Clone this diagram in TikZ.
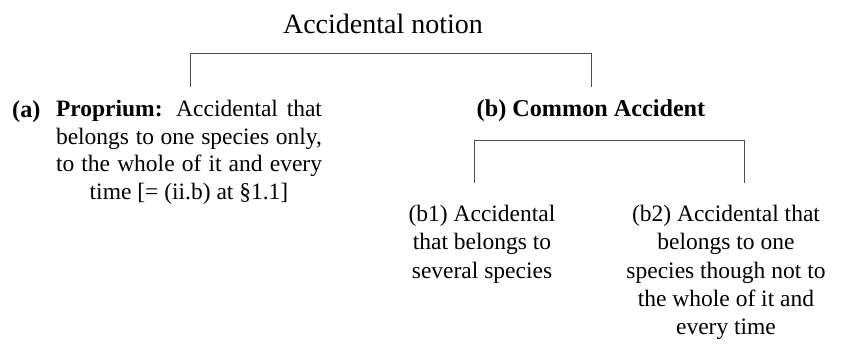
\documentclass[tikz,border=0pt]{standalone}
\usepackage{fontspec}
\setmainfont{Liberation Serif}
\newcommand{\jline}[1]{\makebox[266pt][s]{#1}}
\begin{document}
\begin{tikzpicture}[x=1pt,y=-1pt,
  txt/.style={inner sep=0pt,font=\fontsize{23.5}{27.5}\selectfont,align=center},
  sub/.style={inner sep=0pt,font=\fontsize{23.5}{28.3}\selectfont,align=center},
  hd/.style={inner sep=0pt,font=\fontsize{24.2}{28}\selectfont\bfseries},
  ttl/.style={inner sep=0pt,font=\fontsize{28}{32}\selectfont},
  link/.style={draw=black!70,line width=0.9pt}]
\useasboundingbox (0,0) rectangle (848,349);

% heading
\node[ttl,anchor=base] (root) at (383,33) {Accidental notion};

% first division
\node[hd,anchor=base west] (alab) at (12,117) {(a)};
\node[txt,anchor=north] (prop) at (189,100)
  {\jline{\textbf{Proprium:} Accidental that}\\ \jline{belongs to one species only,}\\ \jline{to the whole of it and every}\\ time [= (ii.b) at §1.1]};
\node[hd,anchor=base] (common) at (591,116) {(b) Common Accident};

% second division
\node[sub,anchor=north] (b1) at (482,205)
  {(b1) Accidental\\ that belongs to\\ several species};
\node[sub,anchor=north] (b2) at (726,205)
  {(b2) Accidental that\\ belongs to one\\ species though not to\\ the whole of it and\\ every time};

% brackets
\coordinate (t1) at (190,53);
\coordinate (t2) at (591,53);
\coordinate (u1) at (474,140);
\coordinate (u2) at (744,140);
\draw[link] (t1 |- prop.north) ++(0,-13) -- (t1) -- (t2) -- ++(0,34);
\draw[link] (u1) ++(0,43) -- (u1) -- (u2) -- ++(0,43);
\end{tikzpicture}
\end{document}
